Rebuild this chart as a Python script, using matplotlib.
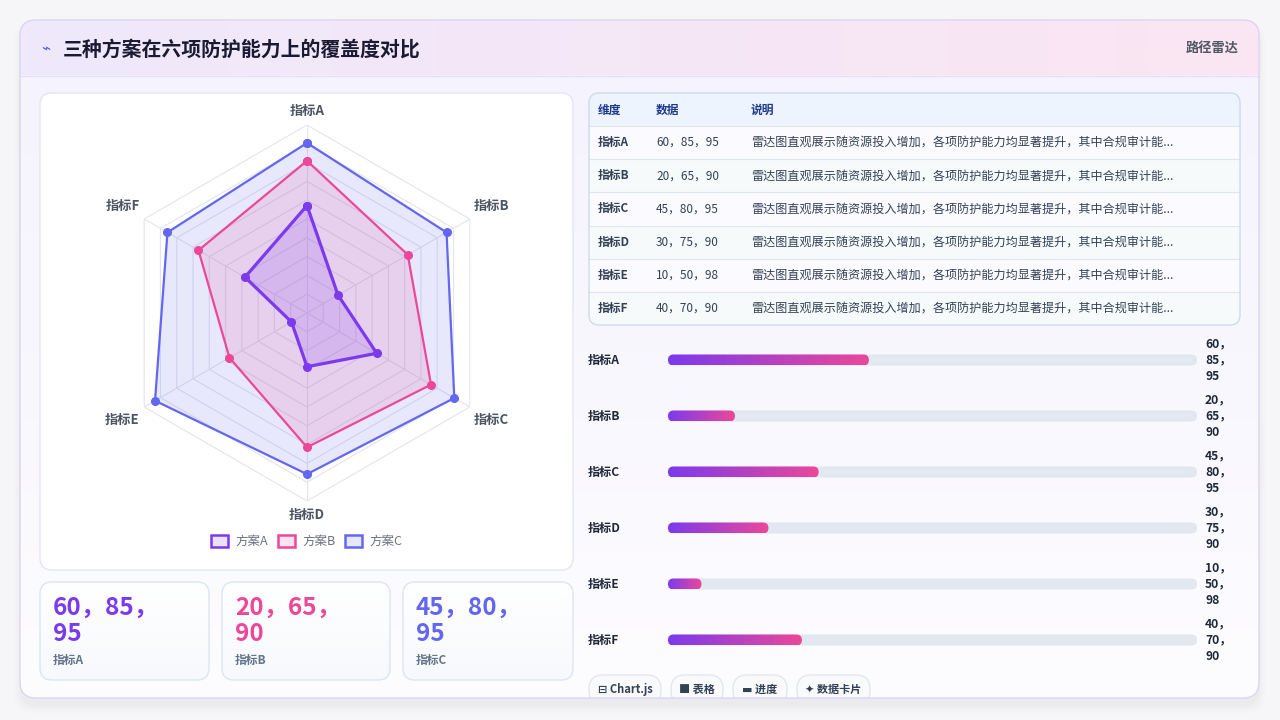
import numpy as np
import matplotlib
matplotlib.use("Agg")
import matplotlib.pyplot as plt
from matplotlib.patches import FancyBboxPatch, Rectangle
from matplotlib.colors import LinearSegmentedColormap

plt.rcParams['font.family'] = ['Noto Sans CJK SC', 'DejaVu Sans']

# ---------------- data ----------------
title = "三种方案在六项防护能力上的覆盖度对比"
subtitle_right = "路径雷达"
categories = ["指标A", "指标B", "指标C", "指标D", "指标E", "指标F"]
series_names = ["方案A", "方案B", "方案C"]
plan_a = [60, 20, 45, 30, 10, 40]
plan_b = [85, 65, 80, 75, 50, 70]
plan_c = [95, 90, 95, 90, 98, 90]
value_labels = ["60，85，95", "20，65，90", "45，80，95", "30，75，90", "10，50，98", "40，70，90"]
description = "雷达图直观展示随资源投入增加，各项防护能力均显著提升，其中合规审计能..."
table_headers = ["维度", "数据", "说明"]
card_categories = ["指标A", "指标B", "指标C"]
tags = ["⊟ Chart.js", "■ 表格", "▬ 进度", "✦ 数据卡片"]
radar_max = 105
bar_scale_max = 158

# colours
C_A = "#7c3aed"
C_B = "#ec4899"
C_C = "#6366f1"
series_colors = [C_A, C_B, C_C]

W, H = 1280, 720
fig = plt.figure(figsize=(12.8, 7.2), dpi=100)
fig.patch.set_facecolor("#f6f6f8")

ov = fig.add_axes([0, 0, 1, 1], zorder=0)
ov.set_xlim(0, W)
ov.set_ylim(H, 0)
ov.set_autoscale_on(False)
ov.axis("off")


def rbox(x, y, w, h, r, fc, ec="none", lw=1.0, z=1, ax=ov, **kw):
    p = FancyBboxPatch((x, y), w, h, boxstyle=f"round,pad=0,rounding_size={r}",
                       fc=fc, ec=ec, lw=lw, zorder=z, **kw)
    ax.add_patch(p)
    return p


def grad_img(x0, x1, y0, y1, c0, c1, horizontal=True, z=1, clip=None, alpha=1.0):
    cmap = LinearSegmentedColormap.from_list("g", [c0, c1])
    if horizontal:
        arr = np.linspace(0, 1, 256).reshape(1, -1)
    else:
        arr = np.linspace(0, 1, 256).reshape(-1, 1)
    im = ov.imshow(arr, cmap=cmap, extent=(x0, x1, y1, y0), aspect="auto",
                   origin="upper", zorder=z, interpolation="bilinear", alpha=alpha)
    if clip is not None:
        im.set_clip_path(clip)
    return im


# shadow
for i, a in enumerate([0.03, 0.022, 0.015, 0.01]):
    rbox(20 - i * 2, 24 - i * 1 + 2, 1239 + i * 4, 678 + i * 3 + 3, 18, fc="#7a7a9a", alpha=a, z=0.5)

# main card
card = rbox(20, 20, 1239, 678, 16, fc="white", ec="none", z=1)
grad_img(20, 1259, 75, 698, "#f5f3fd", "#fdfcff", horizontal=False, z=1.1, clip=card)
grad_img(20, 1259, 20, 75, "#efe9fb", "#fbe5f2", horizontal=True, z=1.2, clip=card)
ov.plot([20, 1259], [75.5, 75.5], color="#e6def4", lw=1, zorder=1.3)
rbox(20, 20, 1239, 678, 16, fc="none", ec="#dcd5f1", lw=1, z=9)

# header text
ov.text(46, 49, "⌁", fontsize=11, color="#4f63e8", ha="center", va="center", zorder=3,
        family=["DejaVu Sans"])
ov.text(63, 49, title, fontsize=14.3, fontweight="bold", color="#1b1a33", ha="left", va="center", zorder=3)
ov.text(1239, 48, subtitle_right, fontsize=9.5, fontweight="bold", color="#525866", ha="right", va="center", zorder=3)

# radar panel
rbox(40, 93, 533, 477, 12, fc="white", ec="#e4e7f1", lw=1, z=2)

# stat cards
card_x = [40, 222, 403]
card_w = [169, 168, 170]
for i, (cx, cw) in enumerate(zip(card_x, card_w)):
    cp = rbox(cx, 582, cw, 98, 12, fc="white", ec="none", z=2)
    grad_img(cx, cx + cw, 582, 680, "#ffffff", "#f7f9fd", horizontal=False, z=2.1, clip=cp)
    rbox(cx, 582, cw, 98, 12, fc="none", ec="#dbe5f4", lw=1, z=2.2)
    parts = value_labels[i].split("，")
    ov.text(cx + 13, 608, parts[0] + "，" + parts[1] + "，", fontsize=17.5, fontweight="bold",
            color=series_colors[i], ha="left", va="center", zorder=3)
    ov.text(cx + 13, 634, parts[2], fontsize=17.5, fontweight="bold",
            color=series_colors[i], ha="left", va="center", zorder=3)
    ov.text(cx + 13, 660, card_categories[i], fontsize=8.5, fontweight="bold",
            color="#64748b", ha="left", va="center", zorder=3)

# table
tx0, tx1, ty0, ty1 = 589, 1240, 93, 325
tp = rbox(tx0, ty0, tx1 - tx0, ty1 - ty0, 10, fc="white", ec="none", z=2)
row_h = (ty1 - 126) / 6
ov.add_patch(Rectangle((tx0, ty0), tx1 - tx0, 126 - ty0, fc="#edf4fe", ec="none", zorder=2.1, clip_path=tp))
for r in range(6):
    y0 = 126 + r * row_h
    fc = "#fbfaff" if r % 2 == 0 else "#f7fafb"
    rect = Rectangle((tx0, y0), tx1 - tx0, row_h, fc=fc, ec="none", zorder=2.1)
    ov.add_patch(rect)
    rect.set_clip_path(tp)
    ov.plot([tx0, tx1], [y0, y0], color="#dfe5ee", lw=0.8, zorder=2.3)
rbox(tx0, ty0, tx1 - tx0, ty1 - ty0, 10, fc="none", ec="#cfdbeb", lw=1, z=2.4)
col_x = [598, 656, 751]
for h_, cxp in zip(table_headers, col_x):
    ov.text(cxp, 110, h_, fontsize=8.5, fontweight="bold", color="#1e3a8a", ha="left", va="center", zorder=3)
for r in range(6):
    yc = 126 + (r + 0.5) * row_h
    ov.text(col_x[0], yc, categories[r], fontsize=8.5, fontweight="bold", color="#334155", ha="left", va="center", zorder=3)
    ov.text(col_x[1], yc, value_labels[r], fontsize=8.5, color="#334155", ha="left", va="center", zorder=3)
    ov.text(col_x[2], yc, description, fontsize=8.7, color="#334155", ha="left", va="center", zorder=3)

# progress bars
bar_y = [360, 416, 472, 528, 584, 640]
bx0, bx1 = 668, 1197
bar_ax = fig.add_axes([bx0 / W, (H - 660) / H, (bx1 - bx0) / W, 320 / H], zorder=1)
bar_ax.set_xlim(0, bar_scale_max)
bar_ax.set_ylim(0, 1)
bar_ax.axis("off")
bh = 11
for i, cat in enumerate(categories):
    yc = bar_y[i]
    ov.text(588, yc, cat, fontsize=8.7, fontweight="bold", color="#1f2937", ha="left", va="center", zorder=3)
    rbox(bx0, yc - bh / 2, bx1 - bx0, bh, bh / 2, fc="#e2e8f0", z=2.5)
    xe = bar_ax.transData.transform((plan_a[i], 0))[0]
    fp = rbox(bx0, yc - bh / 2, xe - bx0, bh, bh / 2, fc="none", z=2.6)
    grad_img(bx0, xe, yc - bh / 2, yc + bh / 2, C_A, C_B, horizontal=True, z=2.7, clip=fp)
    parts = value_labels[i].split("，")
    lines = [parts[0] + "，", parts[1] + "，", parts[2]]
    for k, ln in enumerate(lines):
        ov.text(1205, yc + (k - 1) * 16, ln, fontsize=8.7, fontweight="bold", color="#1f2937",
                ha="left", va="center", zorder=3)

# tags
tag_x = [(589, 661), (671, 723), (733, 787), (797, 870)]
for (a, b), t in zip(tag_x, tags):
    p = rbox(a, 675, b - a, 30, 14, fc="#f8fafc", ec="#e2e8f0", lw=1, z=3)
    p.set_clip_path(card)
    ov.text((a + b) / 2, 689, t, fontsize=8, fontweight="bold", color="#334155",
            ha="center", va="center", zorder=4, family=["Noto Sans CJK SC", "DejaVu Sans"])

# radar (polar axes)
cx, cy, R = 307, 313, 188
rax = fig.add_axes([(cx - R) / W, (H - cy - R) / H, 2 * R / W, 2 * R / H], projection="polar", zorder=2)
rax.set_theta_offset(np.pi / 2)
rax.set_theta_direction(-1)
rax.set_ylim(0, radar_max)
rax.axis("off")
rax.patch.set_alpha(0)
n = len(categories)
ang = np.linspace(0, 2 * np.pi, n, endpoint=False)
angc = np.concatenate([ang, ang[:1]])
for lvl in np.linspace(radar_max / 10, radar_max, 10):
    rax.plot(angc, [lvl] * (n + 1), color="#e3e5ec", lw=0.8, zorder=1)
for a in ang:
    rax.plot([a, a], [0, radar_max], color="#e3e5ec", lw=0.8, zorder=1)

fills = {C_C: 0.15, C_B: 0.15, C_A: 0.16}
lws = {C_C: 1.6, C_B: 1.6, C_A: 2.3}
for vals, col in [(plan_c, C_C), (plan_b, C_B), (plan_a, C_A)]:
    v = np.array(vals + vals[:1], dtype=float)
    rax.fill(angc, v, color=col, alpha=fills[col], lw=0, zorder=2)
    rax.plot(angc, v, color=col, lw=lws[col], zorder=3, marker="o", markersize=5.5,
             markerfacecolor=col, markeredgecolor=col)

label_r = [113, 119, 119, 113, 119, 119]
for a, lab, lr in zip(ang, categories, label_r):
    rax.text(a, lr, lab, fontsize=9.5, fontweight="bold", color="#4b5563", ha="center", va="center",
             zorder=4, clip_on=False)

# legend
leg_items = [(211, series_names[0], C_A), (278, series_names[1], C_B), (345, series_names[2], C_C)]
for x, name, col in leg_items:
    ov.add_patch(Rectangle((x, 535), 17, 12, fc=col, alpha=0.15, ec="none", zorder=3))
    ov.add_patch(Rectangle((x, 535), 17, 12, fc="none", ec=col, lw=1.8, zorder=3.1))
    ov.text(x + 24, 541, name, fontsize=9, color="#6b7280", ha="left", va="center", zorder=3)

ov.set_xlim(0, W)
ov.set_ylim(H, 0)
fig.savefig("out.png", dpi=100, facecolor=fig.get_facecolor())
